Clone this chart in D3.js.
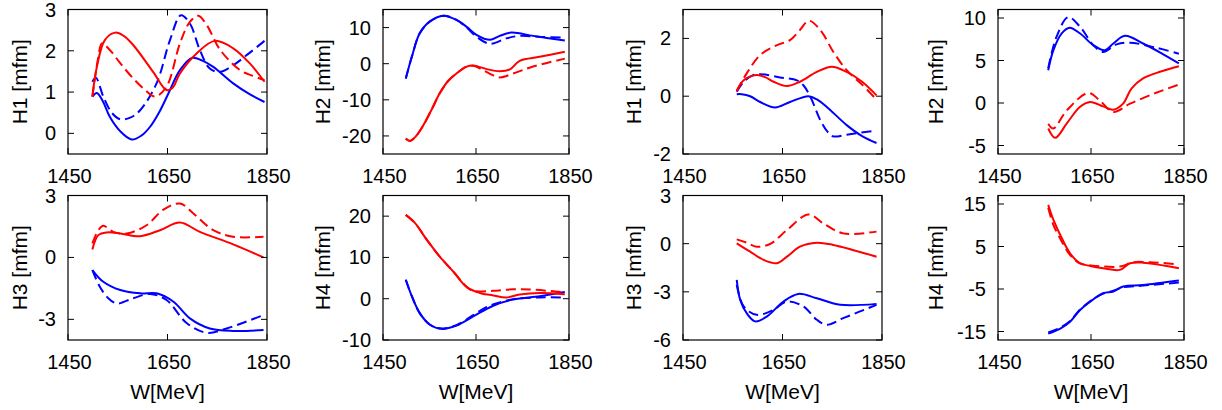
<!DOCTYPE html>
<html>
<head>
<meta charset="UTF-8" />
<title>H amplitudes</title>
<script src="https://d3js.org/d3.v7.min.js"></script>
<style>
  body { margin: 0; background: #fff; }
  svg text { font-family: "Liberation Sans", Arial, sans-serif; font-size: 20px; fill: #000; }
  svg text.axis-title { font-size: 21px; }
</style>
</head>
<body>
<div id="chart"></div>
<script>
// x ticks shared by all panels
const wTicks = [1450, 1650, 1850];

// panel 1 : H1 (left group)
const p1BlueSolid = [[1499,0.89],[1508,0.98],[1520,0.78],[1534,0.4],[1555,0.05],[1578,-0.15],[1598,-0.05],[1615,0.16],[1635,0.55],[1652,0.97],[1675,1.53],[1700,1.83],[1720,1.76],[1742,1.61],[1782,1.21],[1815,0.95],[1845,0.76]];
const p1BlueDash  = [[1499,1.25],[1506,1.35],[1521,0.89],[1538,0.5],[1555,0.34],[1575,0.38],[1595,0.56],[1628,1.21],[1655,2.26],[1677,2.86],[1695,2.66],[1715,2.02],[1735,1.57],[1756,1.49],[1782,1.65],[1815,1.95],[1845,2.24]];
const p1RedSolid  = [[1499,0.89],[1508,1.61],[1524,2.26],[1545,2.44],[1562,2.36],[1581,2.14],[1621,1.49],[1648,1.05],[1660,1.1],[1675,1.45],[1709,1.94],[1745,2.24],[1782,2.06],[1815,1.7],[1845,1.25]];
const p1RedDash   = [[1499,0.89],[1511,1.85],[1518,2.18],[1534,2.02],[1555,1.7],[1581,1.33],[1605,1.05],[1625,0.89],[1648,1.13],[1675,2.18],[1695,2.7],[1712,2.85],[1729,2.62],[1756,2.02],[1796,1.53],[1820,1.4],[1845,1.29]];

// panel 2 : H2 (left group)
const p2BlueSolid = [[1499,-4.1],[1512,1.9],[1529,8.4],[1551,11.7],[1580,13.3],[1608,12.1],[1630,10.2],[1651,8.0],[1680,6.6],[1701,7.7],[1726,8.6],[1773,7.7],[1841,6.4]];
const p2BlueDash  = [[1499,-4.1],[1512,1.9],[1529,8.4],[1551,11.7],[1580,13.3],[1608,12.1],[1630,10.0],[1651,7.5],[1680,5.5],[1715,7.0],[1744,7.7],[1790,7.4],[1841,7.2]];
const p2RedSolid  = [[1499,-20.7],[1508,-21.4],[1520,-20.2],[1537,-17.0],[1555,-12.6],[1572,-8.2],[1590,-4.8],[1608,-2.7],[1630,-0.8],[1644,-0.5],[1673,-1.5],[1701,-2.1],[1723,-1.6],[1744,0.8],[1787,1.9],[1841,3.3]];
const p2RedDash   = [[1499,-20.7],[1508,-21.4],[1520,-20.2],[1537,-17.0],[1555,-12.6],[1572,-8.2],[1590,-4.8],[1608,-2.7],[1630,-0.8],[1644,-0.6],[1658,-1.3],[1680,-2.8],[1701,-3.8],[1730,-2.7],[1773,-0.8],[1841,1.4]];

// panel 3 : H1 (right group)
const p3BlueSolid = [[1558,0.07],[1568,0.07],[1585,0.0],[1605,-0.2],[1635,-0.39],[1665,-0.2],[1702,0.0],[1720,-0.12],[1739,-0.37],[1779,-1.0],[1810,-1.38],[1839,-1.62]];
const p3BlueDash  = [[1558,0.15],[1572,0.5],[1590,0.72],[1605,0.76],[1645,0.65],[1679,0.55],[1692,0.38],[1706,-0.02],[1726,-0.83],[1740,-1.22],[1752,-1.39],[1779,-1.33],[1833,-1.2]];
const p3RedSolid  = [[1558,0.18],[1572,0.55],[1598,0.73],[1615,0.66],[1632,0.5],[1659,0.35],[1685,0.5],[1719,0.84],[1749,1.02],[1779,0.84],[1810,0.5],[1839,0.03]];
const p3RedDash   = [[1558,0.18],[1578,0.79],[1605,1.42],[1639,1.77],[1665,1.94],[1685,2.29],[1703,2.61],[1726,2.29],[1752,1.54],[1779,0.9],[1810,0.4],[1839,-0.12]];

// panel 4 : H2 (right group)
const p4BlueSolid = [[1558,3.86],[1569,6.2],[1587,8.2],[1604,8.86],[1626,8.2],[1655,6.8],[1680,6.2],[1698,7.0],[1723,7.9],[1762,7.0],[1800,5.9],[1839,4.65]];
const p4BlueDash  = [[1558,4.1],[1576,7.8],[1601,10.1],[1626,9.0],[1655,6.8],[1676,6.0],[1705,6.9],[1734,7.1],[1790,6.5],[1839,5.8]];
const p4RedSolid  = [[1558,-3.0],[1573,-4.1],[1598,-2.4],[1626,-0.47],[1648,0.12],[1676,-0.4],[1698,-0.8],[1719,-0.08],[1737,1.7],[1762,2.9],[1800,3.7],[1839,4.33]];
const p4RedDash   = [[1558,-2.44],[1569,-3.0],[1598,-0.87],[1644,1.18],[1669,0.3],[1698,-1.06],[1734,-0.08],[1790,1.2],[1839,2.17]];

// panel 5 : H3 (left group)
const p5BlueSolid = [[1499,-0.61],[1521,-1.18],[1555,-1.58],[1595,-1.74],[1628,-1.74],[1662,-2.15],[1695,-2.95],[1735,-3.44],[1782,-3.56],[1843,-3.52]];
const p5BlueDash  = [[1499,-0.61],[1514,-1.42],[1530,-1.95],[1548,-2.23],[1581,-1.98],[1615,-1.77],[1648,-2.06],[1689,-3.19],[1729,-3.65],[1769,-3.44],[1843,-2.79]];
const p5RedSolid  = [[1499,0.39],[1511,1.08],[1528,1.21],[1555,1.16],[1595,1.03],[1635,1.32],[1675,1.69],[1715,1.24],[1782,0.63],[1843,0.0]];
const p5RedDash   = [[1499,0.68],[1511,1.32],[1521,1.53],[1541,1.24],[1568,1.16],[1608,1.56],[1642,2.32],[1675,2.61],[1702,2.13],[1742,1.32],[1782,1.0],[1843,1.0]];

// panel 6 : H4 (left group)
const p6BlueSolid = [[1499,4.6],[1512,0.6],[1529,-3.5],[1551,-6.3],[1576,-7.3],[1608,-6.5],[1644,-4.3],[1687,-1.7],[1730,-0.2],[1787,0.6],[1841,1.6]];
const p6BlueDash  = [[1499,4.6],[1512,0.6],[1529,-3.5],[1551,-6.3],[1576,-7.2],[1608,-6.4],[1644,-4.0],[1673,-2.0],[1701,-0.9],[1730,-0.1],[1787,0.3],[1841,0.3]];
const p6RedSolid  = [[1499,20.3],[1519,18.3],[1544,14.3],[1572,10.2],[1601,6.6],[1630,2.8],[1658,1.4],[1687,0.8],[1715,0.3],[1744,1.0],[1787,1.4],[1841,1.1]];
const p6RedDash   = [[1499,20.3],[1519,18.3],[1544,14.3],[1572,10.2],[1601,6.6],[1630,2.9],[1644,1.9],[1687,1.9],[1730,2.3],[1773,2.2],[1841,1.5]];

// panel 7 : H3 (right group)
const p7BlueSolid = [[1558,-2.26],[1565,-3.5],[1578,-4.33],[1595,-4.84],[1619,-4.53],[1652,-3.6],[1682,-3.13],[1719,-3.4],[1766,-3.81],[1839,-3.75]];
const p7BlueDash  = [[1558,-2.57],[1572,-3.91],[1598,-4.43],[1632,-4.12],[1659,-3.6],[1692,-3.91],[1719,-4.74],[1739,-5.05],[1772,-4.64],[1839,-3.81]];
const p7RedSolid  = [[1558,0.02],[1585,-0.5],[1612,-1.01],[1639,-1.22],[1659,-0.81],[1685,-0.19],[1719,0.06],[1752,-0.08],[1839,-0.81]];
const p7RedDash   = [[1558,0.27],[1578,0.06],[1598,-0.19],[1625,-0.02],[1659,0.85],[1702,1.82],[1732,1.26],[1772,0.64],[1839,0.75]];

// panel 8 : H4 (right group)
const p8BlueSolid = [[1558,-15.5],[1584,-14.3],[1605,-12.7],[1626,-10.0],[1648,-8.0],[1676,-6.0],[1698,-5.6],[1719,-4.4],[1762,-4.06],[1839,-3.0]];
const p8BlueDash  = [[1558,-15.2],[1584,-14.1],[1605,-12.5],[1626,-9.9],[1648,-7.9],[1676,-6.1],[1698,-5.4],[1719,-4.6],[1762,-4.2],[1839,-3.5]];
const p8RedSolid  = [[1558,14.8],[1569,11.3],[1587,7.0],[1605,3.4],[1626,1.06],[1648,0.43],[1676,-0.1],[1712,-0.5],[1734,1.06],[1762,1.2],[1839,-0.1]];
const p8RedDash   = [[1558,14.1],[1569,10.1],[1587,6.2],[1605,3.0],[1626,1.06],[1662,0.43],[1712,0.28],[1741,1.3],[1777,1.3],[1839,0.8]];

const yLabels = ["H1 [mfm]", "H2 [mfm]", "H1 [mfm]", "H2 [mfm]", "H3 [mfm]", "H4 [mfm]", "H3 [mfm]", "H4 [mfm]"];
const yDomains = [[-0.5, 3], [-25, 15], [-2, 3], [-6, 11], [-4, 3], [-10, 25], [-6, 3], [-17, 17]];
const yTicks = [[0, 1, 2, 3], [-20, -10, 0, 10], [-2, 0, 2], [-5, 0, 5, 10], [-3, 0, 3], [-10, 0, 10, 20], [-6, -3, 0, 3], [-15, -5, 5, 15]];
const curves = [
  [p1BlueSolid, p1BlueDash, p1RedSolid, p1RedDash],
  [p2BlueSolid, p2BlueDash, p2RedSolid, p2RedDash],
  [p3BlueSolid, p3BlueDash, p3RedSolid, p3RedDash],
  [p4BlueSolid, p4BlueDash, p4RedSolid, p4RedDash],
  [p5BlueSolid, p5BlueDash, p5RedSolid, p5RedDash],
  [p6BlueSolid, p6BlueDash, p6RedSolid, p6RedDash],
  [p7BlueSolid, p7BlueDash, p7RedSolid, p7RedDash],
  [p8BlueSolid, p8BlueDash, p8RedSolid, p8RedDash]
];

// layout
const W = 1222, H = 410;
const colX = [[68, 267], [383, 569], [683, 882], [998, 1184]];
const rowY = [[9.5, 154], [195.5, 340]];
const labelX = [26.5, 329.5, 640.5, 943];   // baseline of rotated y titles
const styles = [
  { color: "#0000ff", dash: null },
  { color: "#0000ff", dash: "10,5" },
  { color: "#ff0000", dash: null },
  { color: "#ff0000", dash: "10,5" }
];
const tick = 6;

const svg = d3.select("#chart").append("svg")
  .attr("width", W).attr("height", H);

curves.forEach((set, p) => {
  const col = p % 4, row = Math.floor(p / 4);
  const [x0, x1] = colX[col], [y0, y1] = rowY[row];
  const x = d3.scaleLinear().domain([1450, 1850]).range([x0, x1]);
  const y = d3.scaleLinear().domain(yDomains[p]).range([y1, y0]);
  const g = svg.append("g");

  const clipId = "clip" + p;
  g.append("clipPath").attr("id", clipId)
    .append("rect").attr("x", x0).attr("y", y0).attr("width", x1 - x0).attr("height", y1 - y0);

  const line = d3.line()
    .x(d => x(d[0])).y(d => y(d[1]))
    .curve(d3.curveCatmullRom.alpha(0.5));

  set.forEach((data, k) => {
    g.append("path")
      .datum(data)
      .attr("d", line)
      .attr("fill", "none")
      .attr("stroke", styles[k].color)
      .attr("stroke-width", 2)
      .attr("stroke-dasharray", styles[k].dash)
      .attr("clip-path", `url(#${clipId})`);
  });

  // frame
  g.append("rect")
    .attr("x", x0).attr("y", y0).attr("width", x1 - x0).attr("height", y1 - y0)
    .attr("fill", "none").attr("stroke", "#000").attr("stroke-width", 1.2);

  // x ticks (mirrored), labels at bottom
  wTicks.forEach(t => {
    const xp = x(t);
    g.append("line").attr("x1", xp).attr("x2", xp).attr("y1", y1).attr("y2", y1 - tick).attr("stroke", "#000");
    g.append("line").attr("x1", xp).attr("x2", xp).attr("y1", y0).attr("y2", y0 + tick).attr("stroke", "#000");
    g.append("text").attr("x", xp + 1.5).attr("y", y1 + 28.5)
      .attr("text-anchor", "middle").text(t);
  });

  // y ticks (mirrored), labels at left
  yTicks[p].forEach(t => {
    const yp = y(t);
    g.append("line").attr("x1", x0).attr("x2", x0 + tick).attr("y1", yp).attr("y2", yp).attr("stroke", "#000");
    g.append("line").attr("x1", x1).attr("x2", x1 - tick).attr("y1", yp).attr("y2", yp).attr("stroke", "#000");
    g.append("text").attr("x", x0 - 12).attr("y", yp)
      .attr("text-anchor", "end").attr("dominant-baseline", "central").text(t);
  });

  // axis titles
  g.append("text").attr("class", "axis-title")
    .attr("transform", `translate(${labelX[col]},${(y0 + y1) / 2}) rotate(-90)`)
    .attr("text-anchor", "middle")
    .text(yLabels[p]);
  if (row === 1) {
    g.append("text").attr("class", "axis-title")
      .attr("x", (x0 + x1) / 2).attr("y", 399)
      .attr("text-anchor", "middle").text("W[MeV]");
  }
});
</script>
</body>
</html>
